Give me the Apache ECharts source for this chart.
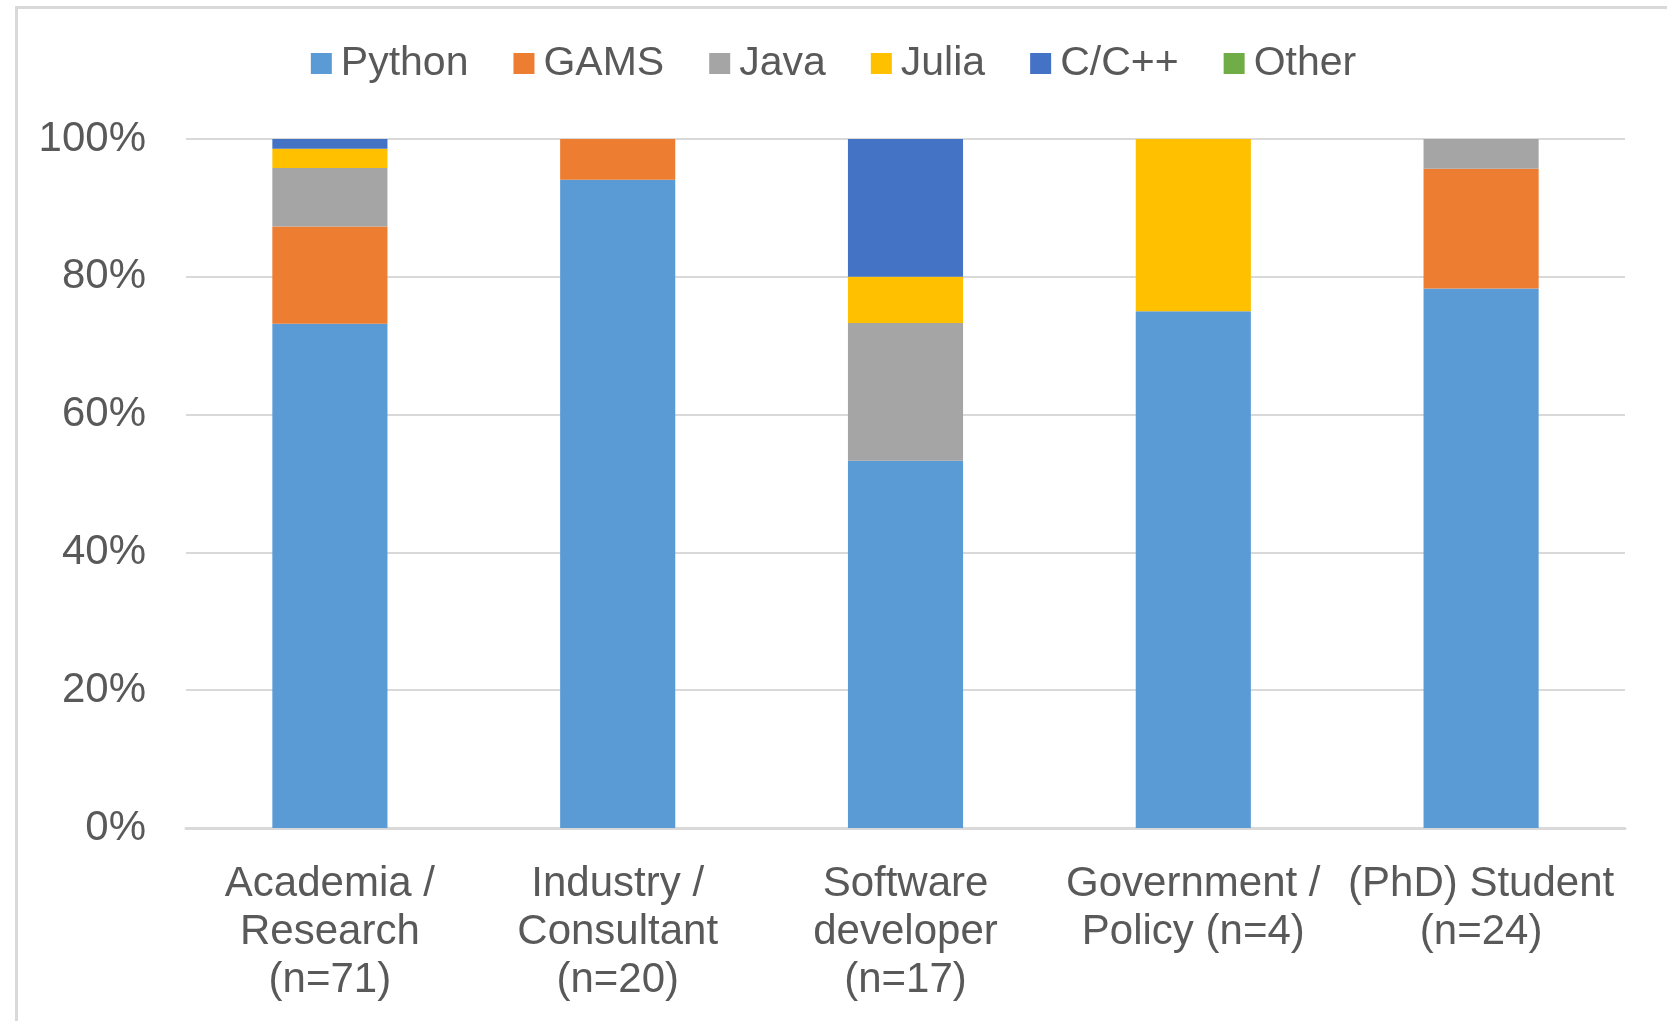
<!DOCTYPE html>
<html>
<head>
<meta charset="utf-8">
<script src="https://cdn.jsdelivr.net/npm/echarts@6/dist/echarts.min.js"></script>
<style>
    html, body { margin: 0; padding: 0; overflow: hidden; background: #fff; }
    #frame { position: absolute; left: 15px; top: 6px; width: 1700px; height: 1100px; border: 3px solid #d9d9d9; }
    #chart { position: absolute; left: 0; top: 0; width: 1667px; height: 1021px; }
</style>
</head>
<body>
<div id="frame"></div>
<div id="chart"></div>
<script>
const categories = [
    'Academia /\nResearch\n(n=71)',
    'Industry /\nConsultant\n(n=20)',
    'Software\ndeveloper\n(n=17)',
    'Government /\nPolicy (n=4)',
    '(PhD) Student\n(n=24)'
]
const legends = ['Python', 'GAMS', 'Java', 'Julia', 'C/C++', 'Other']
// shares in percent, per category
const python = [73.2, 94.1, 53.3, 75.0, 78.3]
const gams = [14.1, 5.9, 0, 0, 17.4]
const java = [8.5, 0, 20.0, 0, 4.3]
const julia = [2.8, 0, 6.7, 25.0, 0]
const cpp = [1.4, 0, 20.0, 0, 0]
const other = [0, 0, 0, 0, 0]
const yTicks = [0, 20, 40, 60, 80, 100]

const colors = ['#5B9BD5', '#ED7D31', '#A5A5A5', '#FFC000', '#4472C4', '#70AD47']
const values = [python, gams, java, julia, cpp, other]
const font = 'Liberation Sans, Arial, sans-serif'

const chart = echarts.init(document.getElementById('chart'))
const series = []
for (let i = 0; i < legends.length; i++) {
    series.push({
        name: legends[i],
        type: 'bar',
        stack: 'total',
        barWidth: '40%',
        data: values[i],
        itemStyle: { color: colors[i] }
    })
}
chart.setOption({
    animation: false,
    color: colors,
    textStyle: { fontFamily: font },
    legend: {
        data: legends,
        top: 38,
        left: 'center',
        icon: 'rect',
        itemWidth: 21,
        itemHeight: 21,
        itemGap: 45,
        textStyle: { color: '#595959', fontSize: 41, fontFamily: font, padding: [0, 0, 0, 4] }
    },
    grid: {
        left: 186,
        right: 42,
        top: 139,
        bottom: 193,
        containLabel: false
    },
    xAxis: {
        type: 'category',
        data: categories,
        axisLine: { show: true, lineStyle: { color: '#d9d9d9', width: 3 } },
        axisTick: { show: false },
        axisLabel: {
            interval: 0,
            color: '#595959',
            fontSize: 42,
            lineHeight: 48,
            margin: 32,
            fontFamily: font
        }
    },
    yAxis: {
        type: 'value',
        min: yTicks[0],
        max: yTicks[yTicks.length - 1],
        interval: 20,
        axisLine: { show: false },
        axisTick: { show: false },
        splitLine: { show: true, lineStyle: { color: '#d9d9d9', width: 2 } },
        axisLabel: {
            color: '#595959',
            fontSize: 42,
            margin: 40,
            fontFamily: font,
            formatter: v => v + '%'
        }
    },
    series: series
})
</script>
</body>
</html>
